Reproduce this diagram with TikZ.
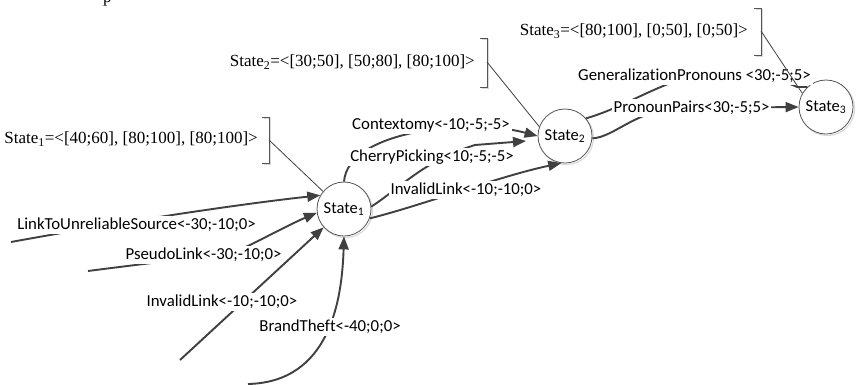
\documentclass[tikz,border=0pt]{standalone}
\usepackage{fontspec}
\setmainfont{Liberation Serif}
\newfontfamily\calibri[Ligatures=NoCommon]{Carlito}
\usetikzlibrary{arrows.meta}
\definecolor{edgec}{HTML}{404040}
\definecolor{linec}{HTML}{555555}
\tikzset{
  arrowedge/.style={draw=edgec, line width=1.9pt, -{Triangle[length=13pt,width=10pt]}},
  plainedge/.style={draw=edgec, line width=1.9pt},
  elabel/.style={fill=white, inner sep=1.8pt, font=\calibri\fontsize{16.8}{20}\selectfont, text=black},
  statenode/.style={circle, draw=linec, line width=0.8pt, fill=white, minimum size=54pt, inner sep=0pt, font=\calibri\fontsize{16.5}{20}\selectfont},
  statenote/.style={inner sep=0pt, font=\fontsize{17}{20}\selectfont},
  noteline/.style={draw=edgec, line width=0.8pt},
  bracket/.style={draw=linec, line width=0.9pt},
  bshadow/.style={draw=gray!30, line width=1.2pt},
}
\begin{document}
\begin{tikzpicture}[x=1pt,y=-1pt]
\useasboundingbox (0,0) rectangle (858,384);
\fill[white] (0,0) rectangle (858,384);
% shadows of state circles
\draw[bshadow] (345.5,210.5) circle[radius=27pt];
\draw[bshadow] (566.5,137.5) circle[radius=27pt];
\draw[bshadow] (827.5,108.5) circle[radius=27pt];
% states
\node[statenode] (s1) at (344,209) {State\textsubscript{1}};
\node[statenode] (s2) at (565,136) {State\textsubscript{2}};
\node[statenode] (s3) at (826,107) {State\textsubscript{3}};
% free ends
\coordinate (p1) at (11,242);
\coordinate (p2) at (88,271);
\coordinate (p3) at (180,360);
\coordinate (p4) at (248,384);
\coordinate (cpend) at (526,141);
% edges
\draw[arrowedge] (p1) .. controls (120,222) and (240,204) .. (s1.150);
\draw[arrowedge] (p2) .. controls (180,259) and (230,255) .. (250,245) .. controls (270,235) and (295,222) .. (s1.188);
\draw[arrowedge] (p3) -- (s1.222);
\draw[arrowedge] (p4) .. controls (330,382) and (342,300) .. (s1.south);
\draw[arrowedge] (s1.north) .. controls (348,130) and (470,118) .. (s2.west);
\draw[arrowedge] (s1.5) .. controls (400,188) and (425,160) .. (475,145) -- (cpend);
\draw[arrowedge] (s1.-20) .. controls (420,206) and (500,176) .. (s2.262);
\draw[plainedge] (s2.40) .. controls (615,110) and (640,95) .. (668,84) .. controls (700,73) and (775,75) .. (797,87) -- (s3.133);
\draw[arrowedge] (s2.-5) .. controls (615,137) and (635,110) .. (680,108) -- (s3.west);
% edge labels
\node[elabel] (l1) at (136.5,225) {LinkToUnreliableSource<-30;-10;0>};
\node[elabel] (l2) at (203.5,255) {PseudoLink<-30;-10;0>};
\node[elabel] (l3) at (222,302) {InvalidLink<-10;-10;0>};
\node[elabel] (l4) at (330,327) {BrandTheft<-40;0;0>};
\node[elabel] (l5) at (431,125) {Contextomy<-10;-5;-5>};
\node[elabel] (l6) at (432,157) {CherryPicking<10;-5;-5>};
\node[elabel] (l7) at (466,190) {InvalidLink<-10;-10;0>};
\node[elabel] (l8) at (694.5,76) {GeneralizationPronouns <30;-5;5>};
\node[elabel] (l9) at (691.5,108) {PronounPairs<30;-5;5>};
% state annotations
\node[statenote, anchor=east] (n1) at (258,139) {State\textsubscript{1}=<[40;60], [80;100], [80;100]>};
\node[statenote, anchor=east] (n2) at (475,62) {State\textsubscript{2}=<[30;50], [50;80], [80;100]>};
\node[statenote, anchor=east] (n3) at (748,31) {State\textsubscript{3}=<[80;100], [0;50], [0;50]>};
\node[statenote, anchor=base west] (pfrag) at (103,2.5) {p};
% brackets
\draw[bshadow] (263.5,118.5) -- (270.5,118.5) -- (270.5,164.5) -- (263.5,164.5);
\draw[bshadow] (481.5,39.5) -- (488.5,39.5) -- (488.5,88.5) -- (481.5,88.5);
\draw[bshadow] (755.5,9.5) -- (762.5,9.5) -- (762.5,56.5) -- (755.5,56.5);
\draw[bracket] (262,117) -- (269,117) -- (269,163) -- (262,163);
\draw[bracket] (480,38) -- (487,38) -- (487,87) -- (480,87);
\draw[bracket] (754,8) -- (761,8) -- (761,55) -- (754,55);
\coordinate (b1) at (269,140);
\coordinate (b2) at (487,62);
\coordinate (b3) at (761,31);
\draw[noteline] (b1) -- (s1.140);
\draw[noteline] (b2) -- (s2.160);
\draw[noteline] (b3) -- (s3.150);
\end{tikzpicture}
\end{document}
